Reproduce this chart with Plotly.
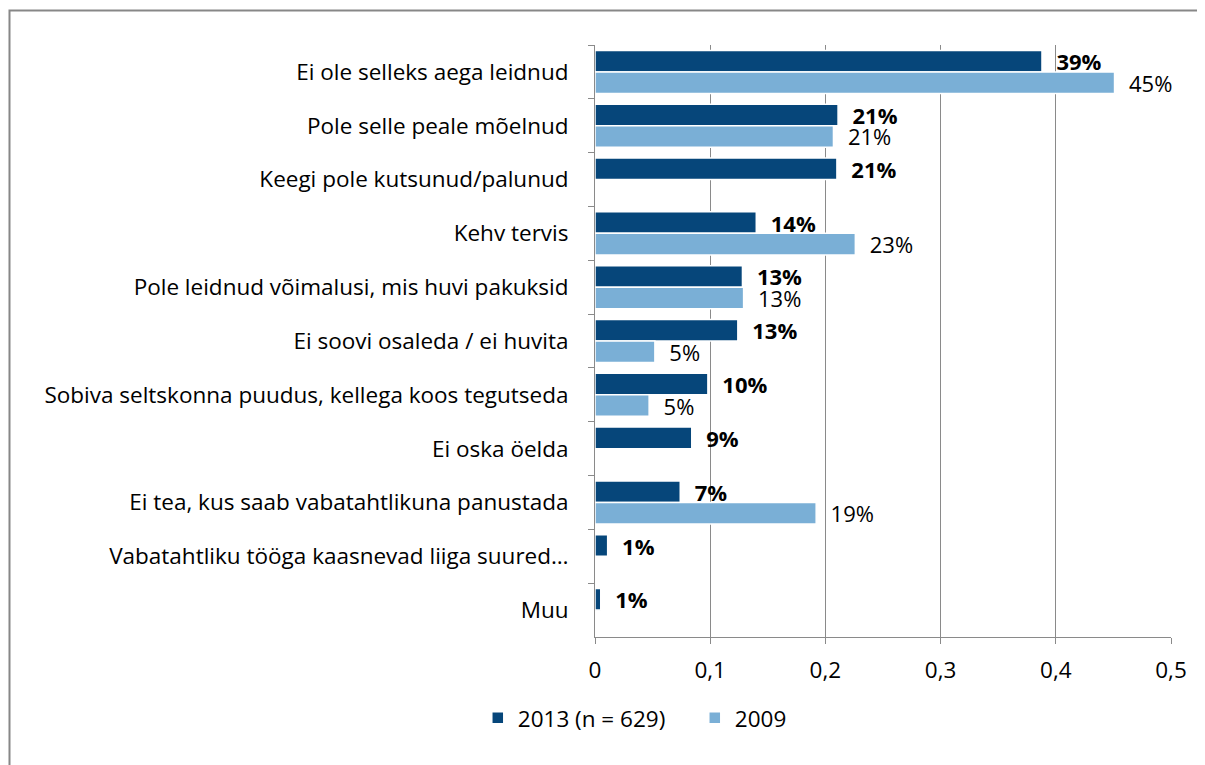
import plotly.graph_objects as go

categories = [
    "Ei ole selleks aega leidnud",
    "Pole selle peale mõelnud",
    "Keegi pole kutsunud/palunud",
    "Kehv tervis",
    "Pole leidnud võimalusi, mis huvi pakuksid",
    "Ei soovi osaleda / ei huvita",
    "Sobiva seltskonna puudus, kellega koos tegutseda",
    "Ei oska öelda",
    "Ei tea, kus saab vabatahtlikuna panustada",
    "Vabatahtliku tööga kaasnevad liiga suured…",
    "Muu",
]
values_2013 = [0.388, 0.211, 0.210, 0.140, 0.128, 0.124, 0.098, 0.084, 0.074, 0.011, 0.005]
values_2009 = [0.451, 0.207, None, 0.226, 0.129, 0.052, 0.047, None, 0.192, None, None]
labels_2013 = ["39%", "21%", "21%", "14%", "13%", "13%", "10%", "9%", "7%", "1%", "1%"]
labels_2009 = ["45%", "21%", "", "23%", "13%", "5%", "5%", "", "19%", "", ""]
series_names = ["2013 (n = 629)", "2009"]
x_ticks = [0, 0.1, 0.2, 0.3, 0.4, 0.5]
x_tick_labels = ["0", "0,1", "0,2", "0,3", "0,4", "0,5"]

FONT = "Open Sans"
FS = 22.5
LFS = 22
DARK = "#06467A"
LIGHT = "#7AAFD6"
GRID = "#8A8A8A"
PAD = "\u00a0\u00a0"

fig = go.Figure()
fig.add_trace(go.Bar(
    name=series_names[0], y=categories, x=values_2013, orientation="h",
    marker=dict(color=DARK, line=dict(color="white", width=1.5)),
    text=[PAD + "<b>" + t + "</b>" if t else "" for t in labels_2013],
    textposition="outside", cliponaxis=False, constraintext="none",
    textfont=dict(family=FONT, size=LFS, color="black"),
    hoverinfo="x+y",
))
fig.add_trace(go.Bar(
    name=series_names[1], y=categories, x=values_2009, orientation="h",
    marker=dict(color=LIGHT, line=dict(color="white", width=1.5)),
    text=[PAD + t if t else "" for t in labels_2009],
    textposition="outside", cliponaxis=False, constraintext="none",
    textfont=dict(family=FONT, size=LFS, color="black"),
    hoverinfo="x+y",
))

fig.update_layout(
    width=1197, height=757,
    margin=dict(l=587, r=34, t=37, b=128),
    paper_bgcolor="white", plot_bgcolor="white",
    barmode="group", bargap=0.2, bargroupgap=0.0,
    font=dict(family=FONT, size=FS, color="black"),
    showlegend=True,
    legend=dict(orientation="h", x=-0.2035, xanchor="left", y=-0.137, yanchor="middle",
                font=dict(family=FONT, size=FS, color="black"), itemwidth=30,
                entrywidth=172, entrywidthmode="pixels",
                traceorder="normal", bgcolor="rgba(0,0,0,0)"),
    shapes=[dict(type="rect", xref="paper", yref="paper",
                 x0=-1.0165, x1=1.08, y0=-0.25, y1=1.0583,
                 line=dict(color="#878787", width=2), fillcolor="rgba(0,0,0,0)", layer="below")],
)
fig.update_xaxes(
    range=[0, 0.5], tickvals=x_ticks, ticktext=x_tick_labels,
    showgrid=True, gridcolor=GRID, gridwidth=1,
    showline=True, linecolor=GRID, linewidth=1,
    ticks="outside", ticklen=6, tickcolor=GRID,
    zeroline=False, ticklabelstandoff=7,
    tickfont=dict(family=FONT, size=FS, color="black"),
)
fig.update_yaxes(
    autorange="reversed", type="category",
    showline=True, linecolor=GRID, linewidth=1,
    ticks="outside", ticklen=6, tickcolor=GRID, tickson="boundaries",
    showgrid=False, ticklabelstandoff=21,
    tickfont=dict(family=FONT, size=FS, color="black"),
)

fig.write_html("out.html")
